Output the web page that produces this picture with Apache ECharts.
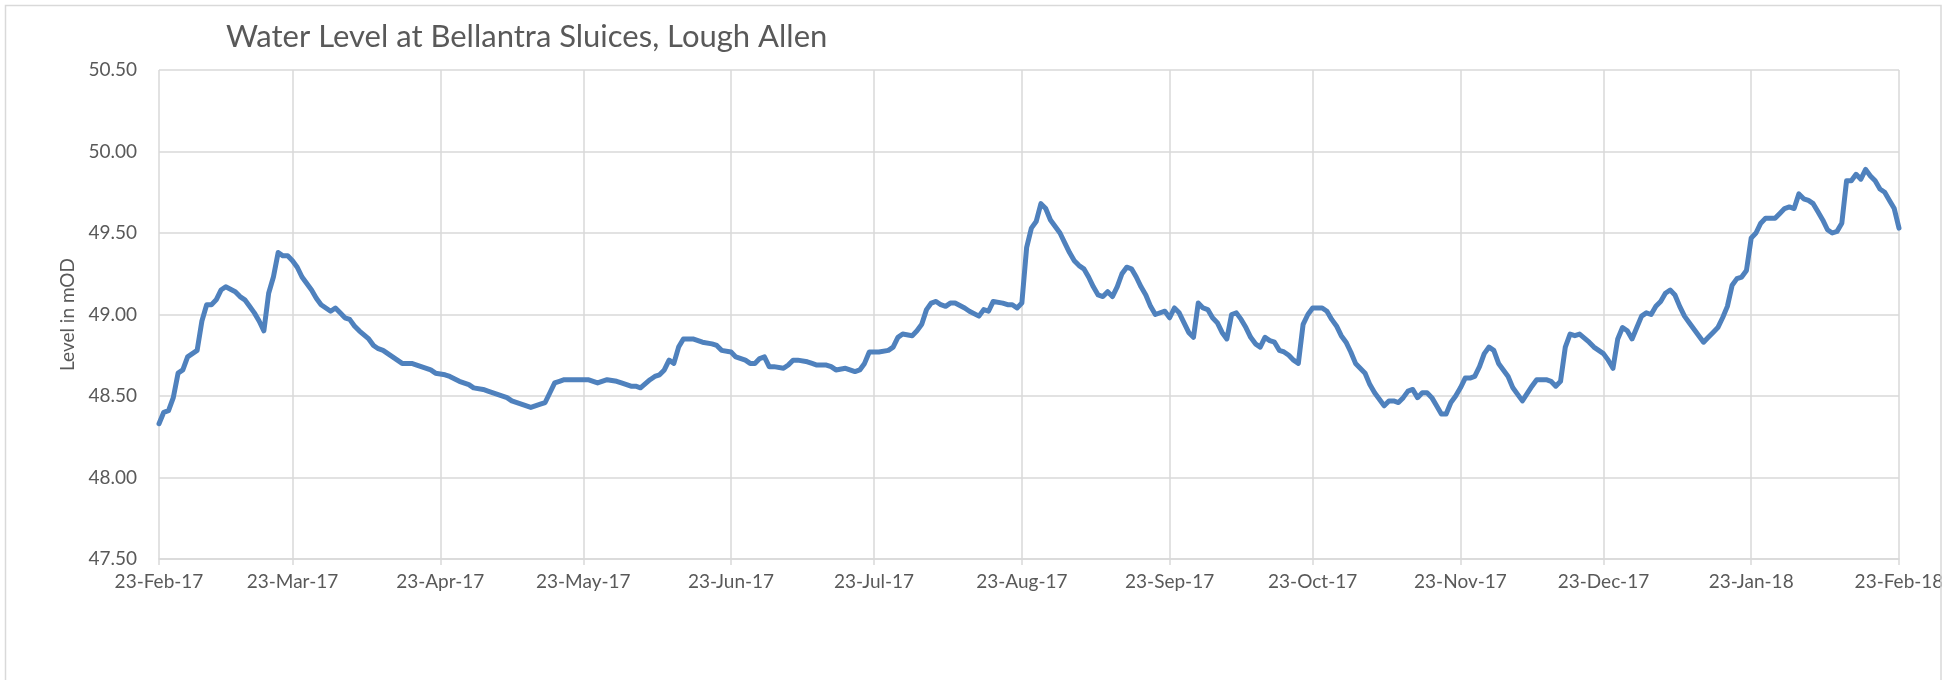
<!DOCTYPE html>
<html>
<head>
<meta charset="utf-8">
<title>Water Level at Bellantra Sluices, Lough Allen</title>
<script src="https://cdn.jsdelivr.net/npm/echarts@6/dist/echarts.min.js"></script>
<style>
  html, body { margin: 0; padding: 0; background: #ffffff; }
  #chart { width: 1950px; height: 680px; }
</style>
</head>
<body>
<div id="chart"></div>
<script>
// Daily water level readings (mOD), keyed by days after the first reading.
const startDate = '2017-02-23';
const endDate = '2018-02-23';

const dayOffsets = [
  0, 1, 2, 3, 4, 5, 6, 8, 9, 10, 11, 12, 13, 14, 16, 17, 18, 19, 20, 21, 22,
  23, 24, 25, 26, 27, 28, 29, 30, 31, 32, 33, 34, 35, 36, 37, 38, 39, 40, 41, 42,
  44, 45, 46, 47, 49, 50, 51, 53, 55, 57, 58, 60, 61, 63, 65, 66, 68, 69, 71, 73,
  74, 76, 78, 80, 81, 82, 83, 84, 85, 88, 90, 92, 94, 96, 97, 99, 100, 101, 103, 104,
  105, 106, 107, 108, 109, 110, 112, 114, 116, 117, 118, 120, 121, 123, 124, 125, 126, 127, 128, 129,
  131, 132, 133, 134, 136, 137, 138, 140, 141, 142, 144, 146, 147, 148, 149, 151, 153, 154, 155, 156,
  158, 159, 160, 161, 162, 163, 164, 165, 166, 167, 169, 170, 172, 173, 174, 175, 177, 178, 179, 180,
  181, 182, 183, 184, 185, 186, 187, 189, 190, 191, 192, 193, 194, 195, 196, 197, 198, 199, 200, 201,
  202, 203, 204, 205, 206, 207, 208, 209, 211, 212, 213, 214, 215, 216, 217, 218, 219, 220, 221, 222,
  223, 224, 225, 226, 227, 228, 229, 230, 231, 232, 233, 234, 235, 236, 237, 238, 239, 240, 241, 242,
  243, 244, 245, 246, 247, 248, 249, 250, 251, 253, 254, 255, 256, 257, 258, 259, 260, 261, 262, 263,
  264, 265, 266, 267, 268, 269, 270, 271, 272, 273, 274, 275, 276, 277, 278, 279, 280, 281, 283, 284,
  285, 286, 288, 289, 291, 292, 293, 294, 295, 296, 297, 298, 300, 301, 302, 303, 304, 305, 306, 307,
  308, 309, 310, 311, 312, 313, 314, 315, 316, 317, 318, 319, 320, 321, 322, 323, 324, 325, 326, 327,
  328, 329, 330, 331, 332, 333, 334, 335, 336, 337, 338, 339, 340, 341, 342, 343, 344, 345, 346, 347,
  348, 349, 350, 351, 352, 353, 354, 355, 356, 357, 358, 359, 360, 361, 362, 363, 364, 365
];

const levels = [
  48.33, 48.40, 48.41, 48.49, 48.64, 48.66, 48.74, 48.78, 48.96, 49.06, 49.06, 49.09, 49.15, 49.17, 49.14, 49.11, 49.09, 49.05, 49.01, 48.96, 48.90,
  49.13, 49.23, 49.38, 49.36, 49.36, 49.33, 49.29, 49.23, 49.19, 49.15, 49.10, 49.06, 49.04, 49.02, 49.04, 49.01, 48.98, 48.97, 48.93, 48.90,
  48.85, 48.81, 48.79, 48.78, 48.74, 48.72, 48.70, 48.70, 48.68, 48.66, 48.64, 48.63, 48.62, 48.59, 48.57, 48.55, 48.54, 48.53, 48.51, 48.49,
  48.47, 48.45, 48.43, 48.45, 48.46, 48.52, 48.58, 48.59, 48.60, 48.60, 48.60, 48.58, 48.60, 48.59, 48.58, 48.56, 48.56, 48.55, 48.60, 48.62,
  48.63, 48.66, 48.72, 48.70, 48.80, 48.85, 48.85, 48.83, 48.82, 48.81, 48.78, 48.77, 48.74, 48.72, 48.70, 48.70, 48.73, 48.74, 48.68, 48.68,
  48.67, 48.69, 48.72, 48.72, 48.71, 48.70, 48.69, 48.69, 48.68, 48.66, 48.67, 48.65, 48.66, 48.70, 48.77, 48.77, 48.78, 48.80, 48.86, 48.88,
  48.87, 48.90, 48.94, 49.03, 49.07, 49.08, 49.06, 49.05, 49.07, 49.07, 49.04, 49.02, 48.99, 49.03, 49.02, 49.08, 49.07, 49.06, 49.06, 49.04,
  49.07, 49.41, 49.53, 49.57, 49.68, 49.65, 49.58, 49.50, 49.44, 49.38, 49.33, 49.30, 49.28, 49.23, 49.17, 49.12, 49.11, 49.14, 49.11, 49.17,
  49.25, 49.29, 49.28, 49.23, 49.17, 49.12, 49.05, 49.00, 49.02, 48.98, 49.04, 49.01, 48.95, 48.89, 48.86, 49.07, 49.04, 49.03, 48.98, 48.95,
  48.89, 48.85, 49.00, 49.01, 48.97, 48.92, 48.86, 48.82, 48.80, 48.86, 48.84, 48.83, 48.78, 48.77, 48.75, 48.72, 48.70, 48.94, 49.00, 49.04,
  49.04, 49.04, 49.02, 48.97, 48.93, 48.87, 48.83, 48.77, 48.70, 48.64, 48.57, 48.52, 48.48, 48.44, 48.47, 48.47, 48.46, 48.49, 48.53, 48.54,
  48.49, 48.52, 48.52, 48.49, 48.44, 48.39, 48.39, 48.46, 48.50, 48.55, 48.61, 48.61, 48.62, 48.68, 48.76, 48.80, 48.78, 48.70, 48.62, 48.55,
  48.51, 48.47, 48.56, 48.60, 48.60, 48.59, 48.56, 48.59, 48.80, 48.88, 48.87, 48.88, 48.83, 48.80, 48.78, 48.76, 48.72, 48.67, 48.85, 48.92,
  48.90, 48.85, 48.92, 48.99, 49.01, 49.00, 49.05, 49.08, 49.13, 49.15, 49.12, 49.05, 48.99, 48.95, 48.91, 48.87, 48.83, 48.86, 48.89, 48.92,
  48.98, 49.05, 49.18, 49.22, 49.23, 49.27, 49.47, 49.50, 49.56, 49.59, 49.59, 49.59, 49.62, 49.65, 49.66, 49.65, 49.74, 49.71, 49.70, 49.68,
  49.63, 49.58, 49.52, 49.50, 49.51, 49.56, 49.82, 49.82, 49.86, 49.83, 49.89, 49.85, 49.82, 49.77, 49.75, 49.70, 49.65, 49.53
];

// Date-axis ticks fall on the 23rd of each month.
const tickDates = [
  '2017-02-23', '2017-03-23', '2017-04-23', '2017-05-23', '2017-06-23', '2017-07-23', '2017-08-23',
  '2017-09-23', '2017-10-23', '2017-11-23', '2017-12-23', '2018-01-23', '2018-02-23'
];

// Level axis range (mOD).
const levelTicks = [47.5, 48.0, 48.5, 49.0, 49.5, 50.0, 50.5];

const MONTHS = ['Jan', 'Feb', 'Mar', 'Apr', 'May', 'Jun', 'Jul', 'Aug', 'Sep', 'Oct', 'Nov', 'Dec'];
const DAY_MS = 86400000;

function parseDay(s) {
  const [y, m, d] = s.split('-').map(Number);
  return Date.UTC(y, m - 1, d);
}
const t0 = parseDay(startDate);
// Whole days elapsed since the first reading.
function dayIndex(s) { return Math.round((parseDay(s) - t0) / DAY_MS); }
function fmtOffset(off) {
  const d = new Date(t0 + Math.round(off) * DAY_MS);
  return d.getUTCDate() + '-' + MONTHS[d.getUTCMonth()] + '-' + String(d.getUTCFullYear()).slice(2);
}

const seriesData = dayOffsets.map((off, i) => [off, levels[i]]);
const tickValues = tickDates.map(dayIndex);

const TEXT = '#595959';
const GRID = '#D9D9D9';
const FONT = 'Lato, "Open Sans", sans-serif';

const chart = echarts.init(document.getElementById('chart'), null, { renderer: 'canvas' });

chart.setOption({
  animation: false,
  backgroundColor: '#ffffff',
  title: {
    text: 'Water Level at Bellantra Sluices, Lough Allen',
    left: 226,
    top: 21,
    padding: 0,
    textStyle: { color: TEXT, fontFamily: FONT, fontSize: 31, fontWeight: 'normal' }
  },
  grid: { left: 159, right: 51, top: 70, bottom: 121, containLabel: false },
  xAxis: {
    type: 'value',
    min: 0,
    max: dayIndex(endDate),
    axisLine: { show: true, lineStyle: { color: GRID, width: 1.5 } },
    axisTick: { show: true, length: 6, lineStyle: { color: GRID, width: 1.5 }, customValues: tickValues },
    axisLabel: {
      customValues: tickValues,
      formatter: fmtOffset,
      color: TEXT, fontFamily: FONT, fontSize: 19, margin: 13,
      showMinLabel: true, showMaxLabel: true
    },
    splitLine: { show: true, lineStyle: { color: GRID, width: 1.5 } }
  },
  yAxis: {
    type: 'value',
    min: levelTicks[0],
    max: levelTicks[levelTicks.length - 1],
    interval: 0.5,
    name: 'Level in mOD',
    nameLocation: 'middle',
    nameGap: 82,
    nameTextStyle: { color: TEXT, fontFamily: FONT, fontSize: 19 },
    axisLine: { show: false },
    axisTick: { show: false },
    axisLabel: {
      formatter: v => v.toFixed(2),
      color: TEXT, fontFamily: FONT, fontSize: 19, margin: 22
    },
    splitLine: { show: true, lineStyle: { color: GRID, width: 1.5 } }
  },
  series: [{
    type: 'line',
    data: seriesData,
    showSymbol: false,
    symbol: 'none',
    lineStyle: { color: '#4F81BD', width: 5, cap: 'round', join: 'round' },
    silent: true
  }],
  graphic: [
    { type: 'rect', z: 100, shape: { x: 1942, y: 0, width: 8, height: 680 }, style: { fill: '#ffffff' } },
    { type: 'rect', z: 101, shape: { x: 5.5, y: 5.5, width: 1935.5, height: 676 }, style: { fill: null, stroke: GRID, lineWidth: 1.5 } }
  ]
});
</script>
</body>
</html>
